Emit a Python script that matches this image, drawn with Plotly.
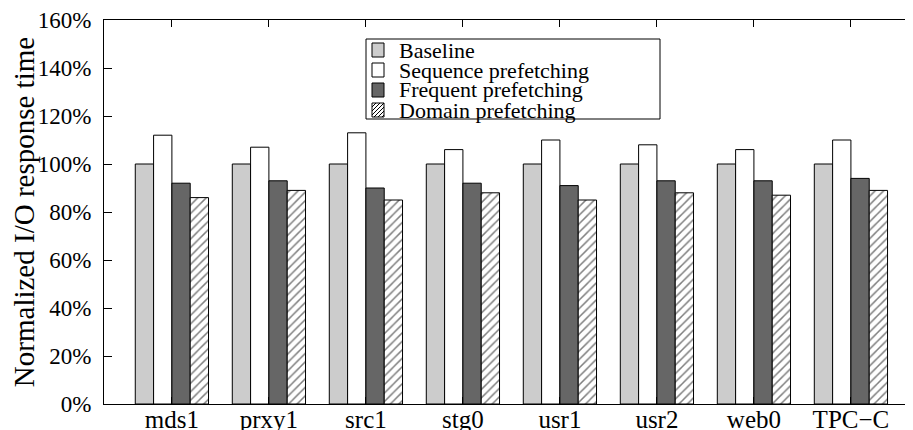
import plotly.graph_objects as go

categories = ["mds1", "prxy1", "src1", "stg0", "usr1", "usr2", "web0", "TPC\u2212C"]
baseline = [100, 100, 100, 100, 100, 100, 100, 100]
sequence = [112, 107, 113, 106, 110, 108, 106, 110]
frequent = [92, 93, 90, 92, 91, 93, 93, 94]
domain = [86, 89, 85, 88, 85, 88, 87, 89]
y_ticks = [0, 20, 40, 60, 80, 100, 120, 140, 160]
series_names = ["Baseline", "Sequence prefetching", "Frequent prefetching", "Domain prefetching"]
series_colors = ["#cccccc", "white", "#666666", "white"]
series_hatch = [False, False, False, True]

FONT = "Liberation Serif, Times New Roman, serif"
line = dict(color="black", width=1)

fig = go.Figure()
for name, vals, col, hatch in zip(series_names, [baseline, sequence, frequent, domain],
                                  series_colors, series_hatch):
    marker = dict(color=col, line=line)
    if hatch:
        marker["pattern"] = dict(shape="/", fgcolor="black", bgcolor="white",
                                 size=6, solidity=0.25)
    fig.add_bar(x=categories, y=vals, name=name, marker=marker, showlegend=False)

# page has an 8px body margin; plot-area bounds in screen pixels
OFF = 8
SL, SR, ST, SB = 104, 913, 20, 404
W, H = 913 - OFF, 430 - OFF

def fx(p):
    return (p - SL) / (SR - SL)
def fy(p):
    return (SB - p) / (SB - ST)

shapes = []
annotations = []
# legend frame
shapes.append(dict(type="rect", xref="paper", yref="paper",
                   x0=fx(366), x1=fx(660), y0=fy(119), y1=fy(39),
                   line=dict(color="black", width=1), fillcolor="white", layer="above"))
sw_x0, sw_w, sw_h = 372, 12, 14
row_tops = [43, 63, 83, 103]
for i, (name, col, hatch) in enumerate(zip(series_names, series_colors, series_hatch)):
    top = row_tops[i]
    shapes.append(dict(type="rect", xref="paper", yref="paper",
                       x0=fx(sw_x0), x1=fx(sw_x0 + sw_w), y0=fy(top + sw_h), y1=fy(top),
                       line=dict(color="black", width=1), fillcolor=col, layer="above"))
    if hatch:
        step = 4
        c = -sw_h
        path = ""
        while c < sw_w:
            u0 = max(0, c)
            v0 = u0 - c
            u1 = min(sw_w, c + sw_h)
            v1 = u1 - c
            if u1 > u0:
                X0 = fx(sw_x0 + u0); Y0 = fy(top + sw_h - v0)
                X1 = fx(sw_x0 + u1); Y1 = fy(top + sw_h - v1)
                path += f"M{X0},{Y0} L{X1},{Y1} "
            c += step
        shapes.append(dict(type="path", xref="paper", yref="paper", path=path,
                           line=dict(color="black", width=1), layer="above"))
    annotations.append(dict(xref="paper", yref="paper", x=fx(398), y=fy(top + 7),
                            xanchor="left", yanchor="middle", showarrow=False,
                            borderpad=0,
                            text=name, font=dict(family=FONT, size=22, color="black")))

fig.update_layout(
    width=W, height=H,
    margin=dict(l=SL - OFF, r=W - (SR - OFF), t=ST - OFF, b=H - (SB - OFF)),
    paper_bgcolor="white", plot_bgcolor="white",
    barmode="group", bargap=0.245, bargroupgap=0,
    font=dict(family=FONT, size=22, color="black"),
    showlegend=False,
    shapes=shapes, annotations=annotations,
)
fig.update_xaxes(
    range=[-0.70, 7.64], showline=True, linecolor="black", linewidth=1,
    mirror="ticks", ticks="inside", ticklen=7, tickcolor="black",
    showgrid=False, tickfont=dict(family=FONT, size=25), ticklabelstandoff=-7,
    automargin=False,
)
fig.update_yaxes(
    range=[0, 160], tickvals=y_ticks, ticktext=[f"{v}%" for v in y_ticks],
    showline=True, linecolor="black", linewidth=1, mirror=False,
    ticks="inside", ticklen=8, tickcolor="black", showgrid=False, zeroline=False,
    tickfont=dict(family=FONT, size=23), ticklabelstandoff=7, automargin=False,
    title=dict(text="Normalized I/O response time", font=dict(family=FONT, size=29),
               standoff=2),
)

fig.write_html("out.html")
